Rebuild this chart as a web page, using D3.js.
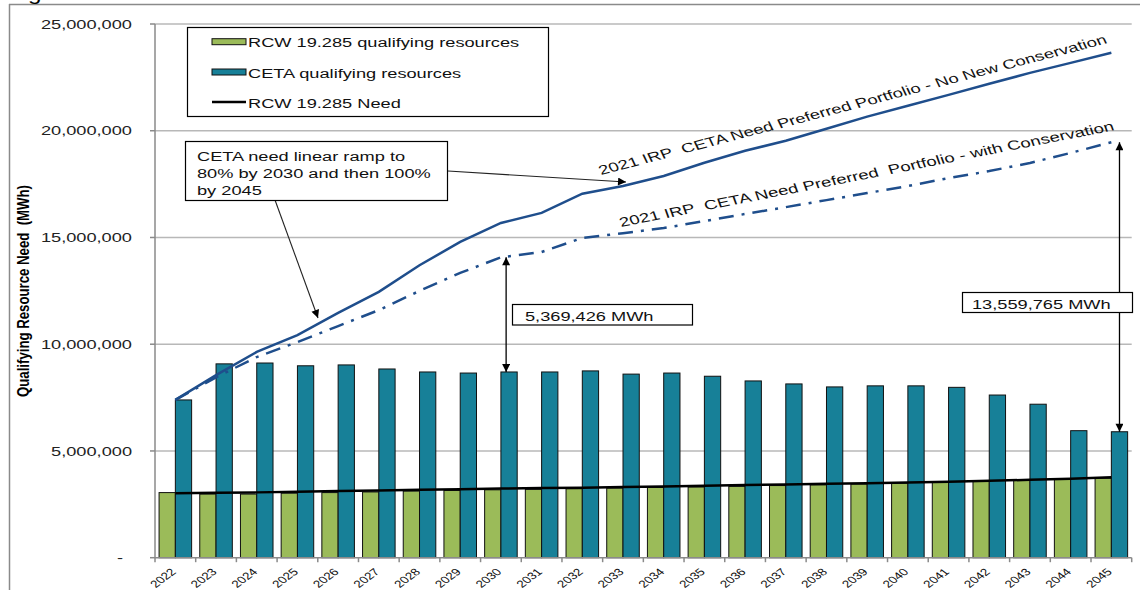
<!DOCTYPE html>
<html>
<head>
<meta charset="utf-8">
<script src="https://cdn.jsdelivr.net/npm/d3@7"></script>
<style>
  body { margin: 0; background: #fff; }
  svg { display: block; font-family: Arial, "Liberation Sans", sans-serif; }
  text { white-space: pre; }
</style>
</head>
<body>
<svg id="chart" width="1140" height="590"></svg>
<script>
// categories
const years = ["2022","2023","2024","2025","2026","2027","2028","2029","2030","2031","2032","2033",
               "2034","2035","2036","2037","2038","2039","2040","2041","2042","2043","2044","2045"];

// RCW 19.285 qualifying resources (green bars), MWh
const rcwResources = [3050000,2980000,2980000,3020000,3050000,3080000,3120000,3150000,3180000,3200000,3230000,3260000,
                      3290000,3310000,3340000,3380000,3410000,3450000,3490000,3530000,3590000,3640000,3670000,3720000];
// CETA qualifying resources (teal bars), MWh
const cetaResources = [7390000,9080000,9120000,8990000,9030000,8840000,8700000,8650000,8700000,8700000,8750000,8600000,
                       8650000,8500000,8280000,8140000,8000000,8050000,8050000,7980000,7620000,7190000,5950000,5900000];
// RCW 19.285 Need (black line)
const rcwNeed = [3020000,3040000,3060000,3090000,3120000,3150000,3180000,3210000,3240000,3260000,3280000,3310000,
                 3340000,3370000,3400000,3430000,3460000,3490000,3520000,3560000,3600000,3650000,3700000,3770000];
// 2021 IRP CETA need - no new conservation (solid blue)
const needNoConservation = [7390000,8550000,9640000,10430000,11470000,12450000,13700000,14790000,15680000,16150000,17050000,17410000,
                            17880000,18500000,19060000,19530000,20090000,20660000,21170000,21680000,22200000,22710000,23180000,23650000];
// 2021 IRP CETA need - with conservation (dash-dot blue)
const needWithConservation = [7390000,8450000,9400000,10100000,10850000,11600000,12500000,13340000,14069426,14320000,14980000,15200000,
                              15440000,15770000,16100000,16420000,16750000,17080000,17410000,17780000,18110000,18490000,18960000,19459765];

const yTicks = [0, 5000000, 10000000, 15000000, 20000000, 25000000];
const legendLabels = ["RCW 19.285 qualifying resources", "CETA qualifying resources", "RCW 19.285 Need"];

const green = "#9BBB59", teal = "#178098", blue = "#1f4e8c";
const SX = 1.35; // the source picture is stretched sideways, text follows it

const svg = d3.select("#chart");
const plot = { left: 155, right: 1131.7, top: 24, bottom: 557.7 };

const x = d3.scaleBand().domain(years).range([plot.left, plot.right]).paddingInner(0.2).paddingOuter(0.1);
const y = d3.scaleLinear().domain([0, 25000000]).range([plot.bottom, plot.top]);
const bw = x.bandwidth();
const step = x.step();
const cx = d => x(d) + bw / 2;

function wideText(parent, px, py, str, size, opts = {}) {
  const t = parent.append("text")
    .attr("transform", `translate(${px},${py}) scale(${SX},1)` + (opts.rotate != null ? ` rotate(${opts.rotate})` : ""))
    .attr("font-size", size)
    .attr("text-anchor", opts.anchor || "start")
    .attr("fill", opts.fill || "#111")
    .text(str);
  if (opts.weight) t.attr("font-weight", opts.weight);
  if (opts.family) t.style("font-family", opts.family);
  if (opts.length) t.attr("textLength", opts.length).attr("lengthAdjust", "spacingAndGlyphs");
  return t;
}

// text that runs from one point to another (angle taken before the stretch)
function alongText(x0, y0, x1, y1, str, size) {
  const dx = (x1 - x0) / SX, dy = y1 - y0;
  const ang = Math.atan2(dy, dx) * 180 / Math.PI;
  return wideText(svg, x0, y0, str, size, { rotate: ang, length: Math.hypot(dx, dy), fill: "#111" });
}

const defs = svg.append("defs");
defs.append("marker")
  .attr("id", "arrow")
  .attr("viewBox", "0 0 10 10")
  .attr("refX", 10).attr("refY", 5)
  .attr("markerWidth", 9).attr("markerHeight", 8)
  .attr("markerUnits", "userSpaceOnUse")
  .attr("orient", "auto-start-reverse")
  .append("path").attr("d", "M0,0L10,5L0,10z").attr("fill", "#000");

// outer frame and the cut off title above it
svg.append("line").attr("x1", 9.5).attr("x2", 9.5).attr("y1", 4).attr("y2", 590).attr("stroke", "#8a8a8a").attr("stroke-width", 1.5);
svg.append("line").attr("x1", 9).attr("x2", 1140).attr("y1", 4.5).attr("y2", 4.5).attr("stroke", "#8a8a8a").attr("stroke-width", 1.5);
wideText(svg, 28, -0.5, "g", 18, { fill: "#000" });

// gridlines
svg.append("g").selectAll("line")
  .data(yTicks.filter(d => d > 0))
  .join("line")
  .attr("x1", plot.left).attr("x2", plot.right)
  .attr("y1", d => y(d)).attr("y2", d => y(d))
  .attr("stroke", "#b8b8b8").attr("stroke-width", 1.5);

// y axis
const yAxis = svg.append("g");
yAxis.append("line").attr("x1", plot.left).attr("x2", plot.left).attr("y1", plot.top).attr("y2", plot.bottom)
  .attr("stroke", "#8a8a8a").attr("stroke-width", 1.5);
yAxis.selectAll(".tick").data(yTicks).join("line")
  .attr("x1", plot.left - 5).attr("x2", plot.left)
  .attr("y1", d => y(d)).attr("y2", d => y(d))
  .attr("stroke", "#8a8a8a").attr("stroke-width", 1.5);
yTicks.forEach(d => {
  if (d === 0) wideText(yAxis, 123, y(d) + 4.7, "-", 13.5, { anchor: "end", fill: "#222" });
  else wideText(yAxis, 132, y(d) + 4.7, d3.format(",")(d), 13.5, { anchor: "end", fill: "#222" });
});
wideText(svg, 28.5, 291, "Qualifying Resource Need  (MWh)", 12, {
  rotate: -90, anchor: "middle", weight: "bold", length: 212, fill: "#000",
  family: "'Liberation Sans Narrow', 'Arial Narrow', Arial, sans-serif"
});

// bars
const bars = svg.append("g");
bars.selectAll(".rcw").data(years).join("rect")
  .attr("class", "rcw")
  .attr("x", d => x(d)).attr("width", bw / 2)
  .attr("y", (d, i) => y(rcwResources[i]))
  .attr("height", (d, i) => y(0) - y(rcwResources[i]))
  .attr("fill", green).attr("stroke", "#111").attr("stroke-width", 1);
bars.selectAll(".ceta").data(years).join("rect")
  .attr("class", "ceta")
  .attr("x", d => x(d) + bw / 2).attr("width", bw / 2)
  .attr("y", (d, i) => y(cetaResources[i]))
  .attr("height", (d, i) => y(0) - y(cetaResources[i]))
  .attr("fill", teal).attr("stroke", "#111").attr("stroke-width", 1);

// x axis
const xAxis = svg.append("g");
xAxis.append("line").attr("x1", plot.left).attr("x2", plot.right).attr("y1", plot.bottom).attr("y2", plot.bottom)
  .attr("stroke", "#8a8a8a").attr("stroke-width", 1.5);
xAxis.selectAll(".tick").data(years.concat(["end"])).join("line")
  .attr("x1", (d, i) => plot.left + i * step).attr("x2", (d, i) => plot.left + i * step)
  .attr("y1", plot.bottom).attr("y2", plot.bottom + 4.5)
  .attr("stroke", "#8a8a8a").attr("stroke-width", 1.5);
years.forEach(d => wideText(xAxis, cx(d) + 1.5, 572.5, d, 10, { anchor: "end", rotate: -45, fill: "#111" }));

// lines
const line = arr => d3.line().x(d => cx(d)).y((d, i) => y(arr[i]))(years);
svg.append("path").attr("d", line(rcwNeed)).attr("fill", "none").attr("stroke", "#000").attr("stroke-width", 2.5);
svg.append("path").attr("d", line(needNoConservation)).attr("fill", "none").attr("stroke", blue).attr("stroke-width", 2.5);
svg.append("path").attr("d", line(needWithConservation)).attr("fill", "none").attr("stroke", blue).attr("stroke-width", 2.5)
  .attr("stroke-dasharray", "15,8,3,8");

// line labels
alongText(601, 175, 1108, 43, "2021 IRP  CETA Need Preferred Portfolio - No New Conservation", 13);
alongText(621, 227, 1115, 130, "2021 IRP  CETA Need Preferred  Portfolio - with Conservation", 13);

// gap arrows
function gapArrow(year, frac) {
  const i = years.indexOf(year);
  const ax = x(year) + bw * frac;
  svg.append("line")
    .attr("x1", ax).attr("x2", ax)
    .attr("y1", y(needWithConservation[i])).attr("y2", y(cetaResources[i]))
    .attr("stroke", "#000").attr("stroke-width", 1.3)
    .attr("marker-start", "url(#arrow)").attr("marker-end", "url(#arrow)");
}
gapArrow("2030", 0.66);
gapArrow("2045", 0.75);

function valueBox(bx, by, w, h, str, tx) {
  svg.append("rect").attr("x", bx).attr("y", by).attr("width", w).attr("height", h)
    .attr("fill", "#fff").attr("stroke", "#000").attr("stroke-width", 1.2);
  wideText(svg, tx, by + 16, str, 13.5, { fill: "#111" });
}
valueBox(512.5, 304.5, 180, 20.5, "5,369,426 MWh", 525);
valueBox(962.5, 292.5, 170, 20, "13,559,765 MWh", 972);

// ramp note with its two pointers
svg.append("line").attr("x1", 448).attr("y1", 171).attr("x2", 626).attr("y2", 182)
  .attr("stroke", "#222").attr("stroke-width", 1.1).attr("marker-end", "url(#arrow)");
svg.append("line").attr("x1", 275).attr("y1", 200).attr("x2", 318).attr("y2", 318)
  .attr("stroke", "#222").attr("stroke-width", 1.1).attr("marker-end", "url(#arrow)");
svg.append("rect").attr("x", 185.5).attr("y", 141.5).attr("width", 262).attr("height", 59)
  .attr("fill", "#fff").attr("stroke", "#000").attr("stroke-width", 1.2);
["CETA need linear ramp to", "80% by 2030 and then 100%", "by 2045"].forEach((s, i) =>
  wideText(svg, 197, 160.5 + i * 17, s, 13.5, { fill: "#111" }));

// legend
const legend = svg.append("g");
legend.append("rect").attr("x", 187.5).attr("y", 27.5).attr("width", 361).attr("height", 89)
  .attr("fill", "#fff").attr("stroke", "#000").attr("stroke-width", 1.2);
const rowY = [41.7, 72, 102];
legend.append("rect").attr("x", 212).attr("y", rowY[0] - 3).attr("width", 34).attr("height", 6)
  .attr("fill", green).attr("stroke", "#111").attr("stroke-width", 1);
legend.append("rect").attr("x", 212).attr("y", rowY[1] - 3).attr("width", 34).attr("height", 6)
  .attr("fill", teal).attr("stroke", "#111").attr("stroke-width", 1);
legend.append("line").attr("x1", 212).attr("x2", 246).attr("y1", rowY[2]).attr("y2", rowY[2])
  .attr("stroke", "#000").attr("stroke-width", 2.5);
legendLabels.forEach((s, i) => wideText(legend, 248, rowY[i] + 5.5, s, 13.5, { fill: "#111" }));
</script>
</body>
</html>
